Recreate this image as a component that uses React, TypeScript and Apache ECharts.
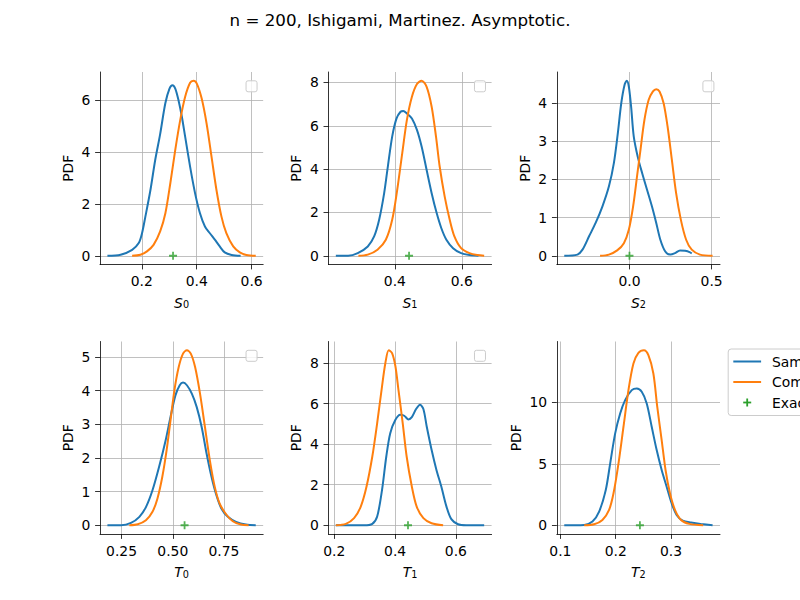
import React, { useEffect, useRef } from "react";
import * as echarts from "echarts";

const TITLE = "n = 200, Ishigami, Martinez. Asymptotic.";
const LEGEND_LABELS = ["Sample", "Computed", "Exact"];
const COLORS = ["#1f77b4", "#ff7f0e", "#2ca02c"];
const FONT = "DejaVu Sans";

const S0_SAMPLE: number[][] = [[0.075,0],[0.123,0.04],[0.165,0.23],[0.189,0.49],[0.201,0.87],[0.213,1.5],[0.231,2.5],[0.249,3.7],[0.267,4.7],[0.286,5.9],[0.301,6.46],[0.312,6.59],[0.322,6.46],[0.334,6.0],[0.346,5.37],[0.358,4.6],[0.376,3.44],[0.394,2.42],[0.412,1.64],[0.43,1.13],[0.448,0.87],[0.466,0.62],[0.484,0.36],[0.502,0.13],[0.527,0.03],[0.56,0]];
const S0_COMPUTED: number[][] = [[0.165,0],[0.195,0.04],[0.219,0.17],[0.243,0.42],[0.267,0.94],[0.286,1.64],[0.304,2.8],[0.322,4.09],[0.34,5.24],[0.358,6.14],[0.376,6.68],[0.388,6.76],[0.4,6.66],[0.418,6.08],[0.436,5.11],[0.454,3.83],[0.472,2.54],[0.49,1.52],[0.508,0.87],[0.533,0.36],[0.557,0.13],[0.581,0.03],[0.615,0]];

const S1_SAMPLE: number[][] = [[0.2235,0],[0.26,0],[0.289,0.12],[0.319,0.43],[0.338,0.89],[0.353,1.66],[0.368,2.89],[0.379,4.12],[0.392,5.5],[0.405,6.34],[0.417,6.65],[0.425,6.68],[0.436,6.57],[0.451,6.34],[0.466,5.81],[0.48,5.04],[0.495,3.96],[0.51,2.89],[0.525,1.97],[0.539,1.27],[0.554,0.74],[0.574,0.35],[0.598,0.12],[0.623,0.03],[0.65,0]];
const S1_COMPUTED: number[][] = [[0.291,0],[0.319,0.05],[0.348,0.28],[0.373,0.74],[0.392,1.66],[0.407,3.04],[0.422,4.73],[0.436,6.27],[0.451,7.34],[0.466,7.93],[0.48,8.08],[0.495,7.8],[0.51,6.88],[0.523,5.5],[0.534,4.12],[0.549,2.73],[0.564,1.66],[0.578,0.89],[0.598,0.35],[0.623,0.12],[0.647,0.03],[0.667,0]];

const S2_SAMPLE: number[][] = [[-0.397,0],[-0.317,0.03],[-0.286,0.16],[-0.246,0.51],[-0.206,0.86],[-0.165,1.29],[-0.125,1.82],[-0.095,2.43],[-0.071,3.21],[-0.05,4.0],[-0.03,4.48],[-0.016,4.59],[-0.004,4.44],[0.01,3.91],[0.026,3.13],[0.05,2.6],[0.077,2.17],[0.107,1.73],[0.137,1.29],[0.163,0.86],[0.188,0.42],[0.218,0.11],[0.248,0.03],[0.278,0.07],[0.308,0.14],[0.339,0.13],[0.369,0.09],[0.379,0.06]];
const S2_COMPUTED: number[][] = [[-0.179,0],[-0.125,0.03],[-0.075,0.14],[-0.034,0.33],[-0.004,0.68],[0.022,1.29],[0.046,2.08],[0.067,2.78],[0.091,3.56],[0.117,4.09],[0.143,4.31],[0.163,4.37],[0.183,4.31],[0.208,4.0],[0.232,3.39],[0.258,2.52],[0.284,1.64],[0.313,0.94],[0.345,0.42],[0.379,0.16],[0.429,0.03],[0.506,0]];

const T0_SAMPLE: number[][] = [[0.181,0],[0.248,0],[0.296,0.07],[0.337,0.25],[0.369,0.54],[0.401,1.04],[0.433,1.73],[0.465,2.52],[0.489,3.22],[0.513,3.86],[0.534,4.16],[0.55,4.24],[0.569,4.16],[0.593,3.91],[0.617,3.51],[0.641,2.92],[0.665,2.13],[0.689,1.44],[0.713,0.89],[0.737,0.5],[0.769,0.25],[0.809,0.1],[0.857,0.02],[0.905,0]];
const T0_COMPUTED: number[][] = [[0.288,0],[0.329,0.03],[0.369,0.15],[0.401,0.4],[0.425,0.79],[0.449,1.44],[0.47,2.23],[0.489,3.12],[0.508,4.01],[0.529,4.7],[0.55,5.1],[0.569,5.2],[0.588,5.1],[0.609,4.7],[0.633,3.91],[0.657,2.92],[0.681,1.93],[0.705,1.14],[0.729,0.64],[0.761,0.32],[0.793,0.12],[0.833,0.02],[0.87,0]];

const T1_SAMPLE: number[][] = [[0.205,0],[0.298,0],[0.325,0.07],[0.341,0.43],[0.357,1.74],[0.371,3.39],[0.384,4.54],[0.401,5.2],[0.417,5.45],[0.43,5.4],[0.444,5.22],[0.455,5.33],[0.469,5.73],[0.482,5.94],[0.493,5.73],[0.504,4.87],[0.52,3.72],[0.536,2.73],[0.552,1.91],[0.569,0.92],[0.585,0.3],[0.607,0.05],[0.634,0],[0.693,0]];
const T1_COMPUTED: number[][] = [[0.205,0],[0.238,0.07],[0.265,0.35],[0.287,0.92],[0.306,1.91],[0.325,3.39],[0.341,5.04],[0.357,6.85],[0.368,8.0],[0.379,8.63],[0.39,8.49],[0.401,7.84],[0.411,6.68],[0.425,5.04],[0.438,3.39],[0.455,1.91],[0.471,0.92],[0.493,0.35],[0.52,0.1],[0.558,0]];

const T2_SAMPLE: number[][] = [[0.107,0],[0.143,0.03],[0.158,0.3],[0.17,1.11],[0.182,2.87],[0.19,5.04],[0.199,7.48],[0.208,9.1],[0.217,10.19],[0.229,11.0],[0.238,11.14],[0.247,10.87],[0.256,9.92],[0.265,8.02],[0.274,6.12],[0.283,4.5],[0.292,3.14],[0.301,1.79],[0.31,0.84],[0.321,0.38],[0.336,0.22],[0.354,0.11],[0.375,0]];
const T2_COMPUTED: number[][] = [[0.143,0],[0.161,0.08],[0.176,0.43],[0.188,1.25],[0.196,2.6],[0.205,5.04],[0.214,8.02],[0.223,11.0],[0.232,13.17],[0.241,14.04],[0.251,14.25],[0.259,13.85],[0.268,12.36],[0.275,9.65],[0.283,6.94],[0.29,4.5],[0.298,2.6],[0.307,1.25],[0.318,0.43],[0.333,0.11],[0.358,0]];

const EXACT = [0.3139, 0.4424, 0.0, 0.5576, 0.4424, 0.2437];
const SYMBOLS = ["S", "S", "S", "T", "T", "T"];
const INDICES = ["0", "1", "2", "0", "1", "2"];
const X_TICKS = [[0.2, 0.4, 0.6], [0.4, 0.6], [0.0, 0.5], [0.25, 0.5, 0.75], [0.2, 0.4, 0.6], [0.1, 0.2, 0.3]];
const X_DECIMALS = [1, 1, 1, 2, 1, 1];
const Y_TICKS = [[0, 2, 4, 6], [0, 2, 4, 6, 8], [0, 1, 2, 3, 4], [0, 1, 2, 3, 4, 5], [0, 2, 4, 6, 8], [0, 5, 10]];

const SAMPLES = [S0_SAMPLE, S1_SAMPLE, S2_SAMPLE, T0_SAMPLE, T1_SAMPLE, T2_SAMPLE];
const COMPUTEDS = [S0_COMPUTED, S1_COMPUTED, S2_COMPUTED, T0_COMPUTED, T1_COMPUTED, T2_COMPUTED];

const CROSS = "path://M3.1,0H4.9V3.1H8V4.9H4.9V8H3.1V4.9H0V3.1H3.1Z";

function buildOption() {
  const LEFTS = [100, 328.42, 556.84];
  const TOPS = [72, 341.5];
  const W = 163.16;
  const H = 192.5;
  const grid: any[] = [];
  const xAxis: any[] = [];
  const yAxis: any[] = [];
  const series: any[] = [];
  const graphic: any[] = [];
  for (let i = 0; i < 6; i++) {
    const left = LEFTS[i % 3];
    const top = TOPS[Math.floor(i / 3)];
    grid.push({ left, top, width: W, height: H });
    const xs = [...SAMPLES[i], ...COMPUTEDS[i]].map((p) => p[0]).concat([EXACT[i]]);
    const ys = [...SAMPLES[i], ...COMPUTEDS[i]].map((p) => p[1]).concat([0]);
    const xmin = Math.min(...xs), xmax = Math.max(...xs);
    const ymin = Math.min(...ys), ymax = Math.max(...ys);
    const dx = (xmax - xmin) * 0.05, dy = (ymax - ymin) * 0.05;
    const dec = X_DECIMALS[i];
    xAxis.push({
      type: "value", gridIndex: i, min: xmin - dx, max: xmax + dx,
      axisLine: { show: true, onZero: false, lineStyle: { color: "#000", width: 0.8 } },
      axisTick: { show: true, length: 4.9, lineStyle: { color: "#000", width: 0.8 }, customValues: X_TICKS[i] },
      axisLabel: { customValues: X_TICKS[i], formatter: (v: number) => v.toFixed(dec), margin: 9.7, color: "#000", fontSize: 13.9, fontFamily: FONT },
      splitLine: { show: true, lineStyle: { color: "#b0b0b0", width: 0.8 } },
      name: `{i|${SYMBOLS[i]}}{s|${INDICES[i]}}`,
      nameLocation: "middle", nameGap: 25,
      nameTextStyle: {
        color: "#000", fontFamily: FONT,
        rich: {
          i: { fontStyle: "italic", fontSize: 13.9, fontFamily: FONT, color: "#000", verticalAlign: "bottom", lineHeight: 20 },
          s: { fontSize: 9.7, fontFamily: FONT, color: "#000", verticalAlign: "bottom", lineHeight: 12 },
        },
      },
    });
    const yt = Y_TICKS[i];
    yAxis.push({
      type: "value", gridIndex: i, min: ymin - dy, max: ymax + dy,
      axisLine: { show: true, onZero: false, lineStyle: { color: "#000", width: 0.8 } },
      axisTick: { show: true, length: 4.9, lineStyle: { color: "#000", width: 0.8 }, customValues: yt },
      axisLabel: { customValues: yt, formatter: (v: number) => String(Math.round(v)), margin: 9.7, color: "#000", fontSize: 13.9, fontFamily: FONT },
      splitLine: { show: true, lineStyle: { color: "#b0b0b0", width: 0.8 } },
      name: "PDF", nameLocation: "middle", nameGap: yt[yt.length - 1] >= 10 ? 34 : 25,
      nameTextStyle: { color: "#000", fontSize: 13.9, fontFamily: FONT },
    });
    series.push({
      type: "line", name: LEGEND_LABELS[0], xAxisIndex: i, yAxisIndex: i, data: SAMPLES[i],
      symbol: "none", smooth: 0.3, lineStyle: { color: COLORS[0], width: 2 }, itemStyle: { color: COLORS[0] }, z: 2,
    });
    series.push({
      type: "line", name: LEGEND_LABELS[1], xAxisIndex: i, yAxisIndex: i, data: COMPUTEDS[i],
      symbol: "none", smooth: 0.3, lineStyle: { color: COLORS[1], width: 2 }, itemStyle: { color: COLORS[1] }, z: 3,
    });
    series.push({
      type: "scatter", name: LEGEND_LABELS[2], xAxisIndex: i, yAxisIndex: i, data: [[EXACT[i], 0]],
      symbol: CROSS, symbolSize: 8, itemStyle: { color: COLORS[2] }, z: 4,
    });
    if (i < 5) {
      graphic.push({
        type: "rect", left: left + W - 17.6, top: top + 8.3,
        shape: { width: 11, height: 11, r: 2 },
        style: { fill: "rgba(255,255,255,0.8)", stroke: "#cccccc", lineWidth: 1 },
        z: 10,
      });
    }
  }
  // outer legend (cut off by the right edge, as in the reference)
  const lx = 727.7, ly = 348.5;
  graphic.push({
    type: "rect", left: lx, top: ly, shape: { width: 120, height: 66.5, r: 3 },
    style: { fill: "rgba(255,255,255,0.8)", stroke: "#cccccc", lineWidth: 1 }, z: 10,
  });
  const rowsY = [361.5, 382, 402.5];
  graphic.push({ type: "line", shape: { x1: 733.3, y1: rowsY[0], x2: 761.1, y2: rowsY[0] }, style: { stroke: COLORS[0], lineWidth: 2 }, z: 11 });
  graphic.push({ type: "line", shape: { x1: 733.3, y1: rowsY[1], x2: 761.1, y2: rowsY[1] }, style: { stroke: COLORS[1], lineWidth: 2 }, z: 11 });
  graphic.push({ type: "rect", shape: { x: 743.2, y: rowsY[2] - 0.9, width: 8, height: 1.8 }, style: { fill: COLORS[2] }, z: 11 });
  graphic.push({ type: "rect", shape: { x: 746.3, y: rowsY[2] - 4, width: 1.8, height: 8 }, style: { fill: COLORS[2] }, z: 11 });
  LEGEND_LABELS.forEach((t, k) => {
    graphic.push({
      type: "text", x: 772, y: rowsY[k],
      style: { text: t, fill: "#000", fontSize: 13.9, fontFamily: FONT, verticalAlign: "middle", align: "left" }, z: 11,
    });
  });

  return {
    animation: false,
    backgroundColor: "#ffffff",
    title: {
      text: TITLE, left: "center", top: 11, padding: 0,
      textStyle: { fontSize: 16.7, fontWeight: "normal", color: "#000", fontFamily: FONT },
    },
    grid, xAxis, yAxis, series, graphic,
  };
}

export default function App() {
  const ref = useRef<HTMLDivElement>(null);
  useEffect(() => {
    if (!ref.current) return;
    const chart = echarts.init(ref.current, undefined, { renderer: "svg" });
    chart.setOption(buildOption() as any);
    return () => chart.dispose();
  }, []);
  return <div ref={ref} style={{ position: "absolute", left: 0, top: 0, width: 800, height: 600 }} />;
}
